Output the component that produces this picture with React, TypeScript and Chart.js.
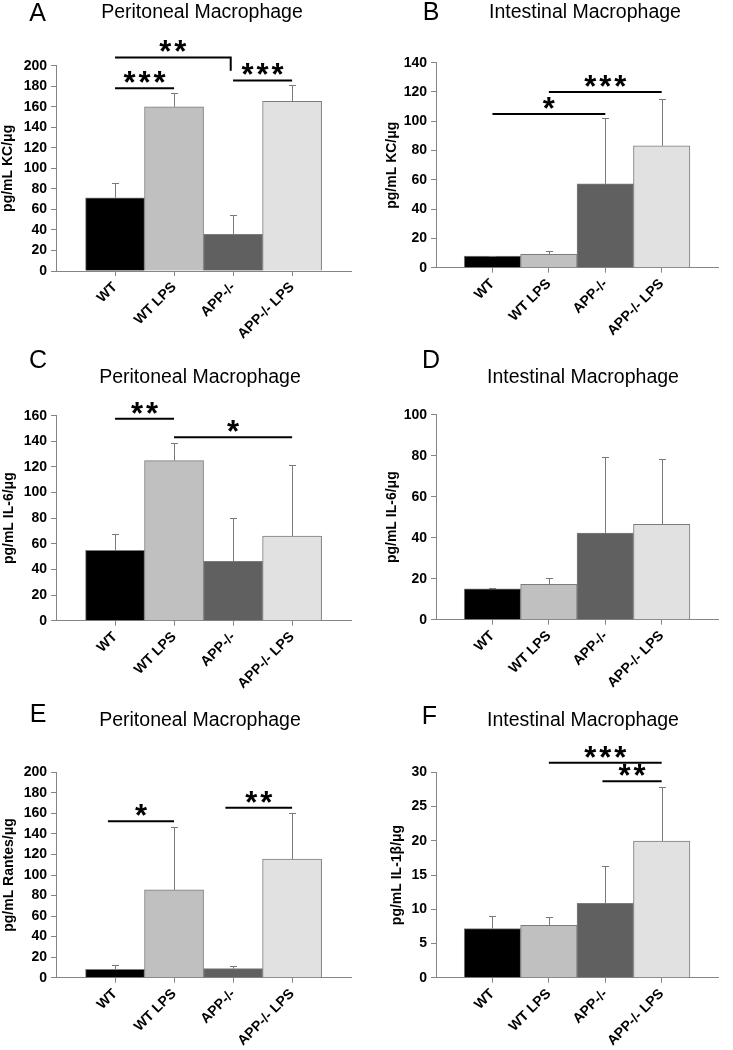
import React, { useEffect, useRef } from 'react';
import { Chart, registerables } from 'chart.js';

Chart.register(...registerables);

// ---------- data ----------
const groups = ['WT', 'WT LPS', 'APP-/-', 'APP-/- LPS'];
const barColors = ['#000000', '#c0c0c0', '#606060', '#e1e1e1'];

const panelLetters = ['A', 'B', 'C', 'D', 'E', 'F'];
const panelTitles = [
  'Peritoneal Macrophage',
  'Intestinal Macrophage',
  'Peritoneal Macrophage',
  'Intestinal Macrophage',
  'Peritoneal Macrophage',
  'Intestinal Macrophage',
];
const yTitles = [
  'pg/mL KC/\u03bcg',
  'pg/mL KC/\u03bcg',
  'pg/mL IL-6/\u03bcg',
  'pg/mL IL-6/\u03bcg',
  'pg/mL Rantes/\u03bcg',
  'pg/mL IL-1\u03b2/\u03bcg',
];
const yMax = [200, 140, 160, 100, 200, 30];
const yStep = [20, 20, 20, 20, 20, 5];

const kcPeritoneal = [71.4, 160.0, 35.7, 165.2];
const kcPeritonealErr = [14.3, 13.0, 18.5, 15.6];
const kcIntestinal = [8.0, 9.1, 57.2, 83.3];
const kcIntestinalErr = [0.3, 2.1, 45.3, 31.9];
const il6Peritoneal = [55.0, 124.9, 46.4, 66.1];
const il6PeritonealErr = [12.4, 13.6, 34.0, 55.4];
const il6Intestinal = [15.1, 17.3, 42.3, 46.5];
const il6IntestinalErr = [0.4, 3.2, 37.1, 32.0];
const rantesPeritoneal = [8.2, 85.5, 8.8, 115.6];
const rantesPeritonealErr = [3.9, 61.0, 2.6, 44.4];
const il1bIntestinal = [7.16, 7.65, 10.87, 19.97];
const il1bIntestinalErr = [1.81, 1.15, 5.43, 7.93];

const means = [kcPeritoneal, kcIntestinal, il6Peritoneal, il6Intestinal, rantesPeritoneal, il1bIntestinal];
const errs = [kcPeritonealErr, kcIntestinalErr, il6PeritonealErr, il6IntestinalErr, rantesPeritonealErr, il1bIntestinalErr];

// significance brackets: group index from/to, level in data units
const sigA = [
  { from: 0, to: 1.96, y: 208, label: '**', dropTo: 195 },
  { from: 0, to: 1, y: 178, label: '***' },
  { from: 2, to: 3, y: 185.6, label: '***' },
];
const sigB = [
  { from: 0, to: 2, y: 105, label: '*' },
  { from: 1, to: 3, y: 120, label: '***' },
];
const sigC = [
  { from: 0, to: 1, y: 157.7, label: '**' },
  { from: 1, to: 3, y: 143.2, label: '*' },
];
const sigD: any[] = [];
const sigE = [
  { from: -0.12, to: 1, y: 152.4, label: '*' },
  { from: 1.87, to: 3, y: 165.6, label: '**' },
];
const sigF = [
  { from: 1, to: 3, y: 31.4, label: '***' },
  { from: 1.95, to: 3, y: 28.7, label: '**' },
];
const sigs: any[] = [sigA, sigB, sigC, sigD, sigE, sigF];

// ---------- layout (page coordinates) ----------
const LAYOUT = [
  { cx: 0, cy: 0, cw: 366, ch: 350, l: 56, r: 352, t: 65.7, b: 271, letter: [37.5, 13.5], title: [202, 12], yTitleX: 8 },
  { cx: 366, cy: 0, cw: 367, ch: 350, l: 436, r: 732, t: 62.7, b: 267.7, letter: [431, 12], title: [585, 12], yTitleX: 392 },
  { cx: 0, cy: 335, cw: 366, ch: 365, l: 56, r: 352, t: 415.7, b: 620.7, letter: [38, 360], title: [200, 377], yTitleX: 9 },
  { cx: 366, cy: 335, cw: 367, ch: 365, l: 436, r: 732, t: 414.7, b: 619.7, letter: [431, 360], title: [583, 377], yTitleX: 392 },
  { cx: 0, cy: 680, cw: 366, ch: 370, l: 56, r: 352, t: 772.3, b: 977.7, letter: [38, 714], title: [200, 720], yTitleX: 9 },
  { cx: 366, cy: 680, cw: 367, ch: 370, l: 436, r: 732, t: 772.3, b: 977.7, letter: [429.5, 716.5], title: [583, 720], yTitleX: 397.5 },
];

const FAMILY = '"Liberation Sans", Arial, Helvetica, sans-serif';
const AXIS_COLOR = '#858585';

function makeDecor(i: number) {
  const L = LAYOUT[i];
  return {
    id: 'decor' + i,
    afterDatasetsDraw(chart: any) {
      const { ctx } = chart;
      const xs = chart.scales.x;
      const ys = chart.scales.y;
      ctx.save();
      // error bars
      ctx.strokeStyle = '#7a7a7a';
      ctx.lineWidth = 1;
      means[i].forEach((m, k) => {
        const px = Math.round(xs.getPixelForValue(k + 1)) + 0.5;
        const y0 = ys.getPixelForValue(m);
        const y1 = Math.round(ys.getPixelForValue(m + errs[i][k])) + 0.5;
        ctx.beginPath();
        ctx.moveTo(px, y0);
        ctx.lineTo(px, y1);
        ctx.moveTo(px - 3.5, y1);
        ctx.lineTo(px + 3.5, y1);
        ctx.stroke();
      });
      // significance brackets
      sigs[i].forEach((s: any) => {
        const x0 = xs.getPixelForValue(s.from + 1);
        const x1 = xs.getPixelForValue(s.to + 1);
        const yy = ys.getPixelForValue(s.y);
        ctx.strokeStyle = '#000';
        ctx.lineWidth = 2;
        ctx.beginPath();
        ctx.moveTo(x0, yy);
        ctx.lineTo(x1, yy);
        if (s.dropTo != null) ctx.lineTo(x1, ys.getPixelForValue(s.dropTo));
        ctx.stroke();
        ctx.fillStyle = '#000';
        ctx.font = 'bold 31px ' + FAMILY;
        (ctx as any).letterSpacing = '3px';
        ctx.textAlign = 'center';
        ctx.textBaseline = 'alphabetic';
        ctx.fillText(s.label, (x0 + x1) / 2 + 1.5, yy + 5);
        (ctx as any).letterSpacing = '0px';
      });
      // panel letter and title
      ctx.fillStyle = '#000';
      ctx.textAlign = 'center';
      ctx.textBaseline = 'middle';
      ctx.font = '25px ' + FAMILY;
      ctx.fillText(panelLetters[i], L.letter[0] - L.cx, L.letter[1] - L.cy + 1);
      ctx.font = '19.5px ' + FAMILY;
      ctx.fillText(panelTitles[i], L.title[0] - L.cx, L.title[1] - L.cy + 1);
      ctx.restore();
    },
  };
}

function Panel({ i }: { i: number }) {
  const ref = useRef<HTMLCanvasElement>(null);
  const L = LAYOUT[i];
  useEffect(() => {
    if (!ref.current) return;
    const labels = ['', ...groups, ''];
    const data = [null, ...means[i], null];
    const chart = new Chart(ref.current, {
      type: 'bar',
      data: {
        labels,
        datasets: [
          {
            data: data as any,
            backgroundColor: ['rgba(0,0,0,0)', ...barColors, 'rgba(0,0,0,0)'],
            borderColor: '#7c7c7c',
            borderWidth: 1,
            categoryPercentage: 1,
            barPercentage: 1,
          },
        ],
      },
      options: {
        responsive: false,
        animation: false,
        devicePixelRatio: 1,
        layout: { padding: { left: 0, top: L.t - L.cy, right: L.cx + L.cw - L.r, bottom: 0 } },
        plugins: { legend: { display: false }, tooltip: { enabled: false }, title: { display: false } },
        scales: {
          x: {
            type: 'category',
            offset: false,
            grid: {
              offset: false,
              drawOnChartArea: false,
              tickLength: 5,
              tickColor: (c: any) => (c.index === 0 || c.index === 5 ? 'rgba(0,0,0,0)' : AXIS_COLOR),
            },
            border: { color: AXIS_COLOR, width: 1 },
            ticks: {
              autoSkip: false,
              maxRotation: 45,
              minRotation: 45,
              padding: 3,
              color: '#000',
              font: { family: FAMILY, size: 14, weight: 'bold' },
            },
            afterFit: (s: any) => {
              s.height = L.cy + L.ch - L.b;
            },
          } as any,
          y: {
            min: 0,
            max: yMax[i],
            ticks: {
              stepSize: yStep[i],
              padding: 4,
              color: '#000',
              font: { family: FAMILY, size: 14, weight: 'bold' },
            },
            grid: { drawOnChartArea: false, tickLength: 5, color: AXIS_COLOR },
            border: { color: AXIS_COLOR, width: 1 },
            title: {
              display: true,
              text: yTitles[i],
              color: '#000',
              font: { family: FAMILY, size: 14, weight: 'bold' },
              padding: { top: Math.max(0, L.yTitleX - L.cx - 8.4), bottom: 0 },
            },
            afterFit: (s: any) => {
              s.width = L.l - L.cx;
            },
          } as any,
        },
      },
      plugins: [makeDecor(i)],
    });
    return () => chart.destroy();
  }, [i]);
  return (
    <canvas
      ref={ref}
      width={L.cw}
      height={L.ch}
      style={{ position: 'absolute', left: L.cx, top: L.cy, width: L.cw, height: L.ch }}
    />
  );
}

export default function App() {
  return (
    <div style={{ position: 'absolute', left: 0, top: 0, width: 733, height: 1050, background: '#fff', overflow: 'hidden' }}>
      {LAYOUT.map((_, i) => (
        <Panel key={i} i={i} />
      ))}
    </div>
  );
}
